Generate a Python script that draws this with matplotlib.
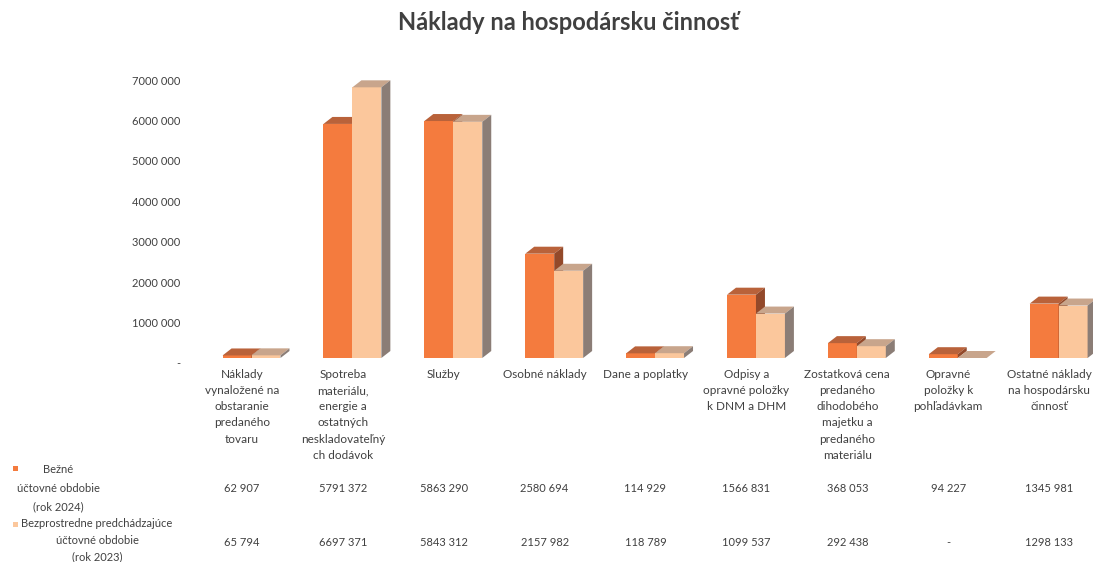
import matplotlib.pyplot as plt
from matplotlib.patches import Rectangle
from matplotlib.transforms import ScaledTranslation, blended_transform_factory

# Data
categories = [
    "Náklady\nvynaložené na\nobstaranie\npredaného\ntovaru",
    "Spotreba\nmateriálu,\nenergie a\nostatných\nneskladovateľný\nch dodávok",
    "Služby",
    "Osobné náklady",
    "Dane a poplatky",
    "Odpisy a\nopravné položky\nk DNM a DHM",
    "Zostatková cena\npredaného\ndihodobého\nmajetku a\npredaného\nmateriálu",
    "Opravné\npoložky k\npohľadávkam",
    "Ostatné náklady\nna hospodársku\nčinnosť",
]
current_2024 = [62907, 5791372, 5863290, 2580694, 114929, 1566831, 368053, 94227, 1345981]
previous_2023 = [65794, 6697371, 5843312, 2157982, 118789, 1099537, 292438, 0, 1298133]
row_labels = ["Bežné\núčtovné obdobie\n(rok 2024)",
              "Bezprostredne predchádzajúce\núčtovné obdobie\n(rok 2023)"]
yticks = [0, 1000000, 2000000, 3000000, 4000000, 5000000, 6000000, 7000000]
title = "Náklady na hospodársku činnosť"

# colours: front, top, side
dark = ("#f47b3e", "#b9623a", "#93492a")
light = ("#fbc79c", "#c8a58c", "#8b7d76")
text_col = "#404040"

plt.rcParams['font.family'] = ['Lato', 'DejaVu Sans']

W, H = 1093, 562
fig = plt.figure(figsize=(W / 100, H / 100), dpi=100)
fig.patch.set_facecolor("white")


def fmt(v):
    if v == 0:
        return "-"
    if v < 1000:
        return str(v)
    return f"{v // 1000} {v % 1000:03d}"


ax = fig.add_axes([191.5 / W, (H - 358) / H, 908 / W, 291 / H])
ax.set_xlim(0, 9)
ax.set_ylim(0, 7200000)
for s in ax.spines.values():
    s.set_visible(False)
ax.set_xticks([])
ax.set_yticks(yticks)
ax.set_yticklabels([fmt(v) for v in yticks], color=text_col, fontsize=8)
ax.tick_params(axis='y', length=0, pad=8)
off = ScaledTranslation(0, -0.05, fig.dpi_scale_trans)
for lab in ax.get_yticklabels():
    lab.set_transform(lab.get_transform() + off)

bw = 0.287      # bar width in category units
dx = 0.089      # depth offset (x)
dy = 173000     # depth offset (y)
shift = 0.095   # perspective shift of the bars vs. table columns


def bar3d(x0, v, cols):
    front, top, side = cols
    ax.fill([x0, x0 + bw, x0 + bw, x0], [0, 0, v, v], color=front, lw=0, clip_on=False)
    ax.fill([x0, x0 + bw, x0 + bw + dx, x0 + dx], [v, v, v + dy, v + dy],
            color=top, lw=0, clip_on=False)
    ax.fill([x0 + bw, x0 + bw + dx, x0 + bw + dx, x0 + bw], [0, dy, v + dy, v],
            color=side, lw=0, clip_on=False)


for i in range(len(categories)):
    c = i + 0.5 + shift
    bar3d(c - bw, current_2024[i], dark)
    bar3d(c, previous_2023[i], light)

# data table below the chart
tr = blended_transform_factory(ax.transData, fig.transFigure)
for i, cat in enumerate(categories):
    ax.text(i + 0.5, 1 - 369 / H, cat, transform=tr, ha='center', va='top',
            fontsize=8.5, color=text_col, linespacing=1.57, clip_on=False)
    ax.text(i + 0.5, 1 - 489 / H, fmt(current_2024[i]), transform=tr, ha='center',
            va='center', fontsize=8, color=text_col, clip_on=False)
    ax.text(i + 0.5, 1 - 543 / H, fmt(previous_2023[i]), transform=tr, ha='center',
            va='center', fontsize=8, color=text_col, clip_on=False)

fig.text(58 / W, 1 - 488 / H, row_labels[0], ha='center', va='center',
         fontsize=8, color=text_col, linespacing=1.85)
fig.text(97 / W, 1 - 540 / H, row_labels[1], ha='center', va='center',
         fontsize=8, color=text_col, linespacing=1.6)
fig.add_artist(Rectangle((13 / W, 1 - 471 / H), 5 / W, 5 / H,
                         transform=fig.transFigure, color=dark[0], lw=0))
fig.add_artist(Rectangle((13 / W, 1 - 527 / H), 5 / W, 5 / H,
                         transform=fig.transFigure, color=light[0], lw=0))

fig.text(568 / W, 1 - 22 / H, title, ha='center', va='center',
         fontsize=17, fontweight='bold', color=text_col)

fig.savefig("out.png", dpi=100)
